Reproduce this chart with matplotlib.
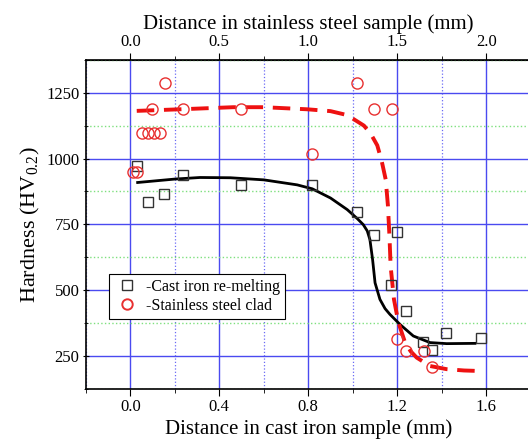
import matplotlib
matplotlib.use("Agg")
import matplotlib.pyplot as plt
from matplotlib.ticker import MultipleLocator, FixedLocator
from matplotlib.lines import Line2D

plt.rcParams['font.family'] = ['Liberation Serif', 'DejaVu Serif']
plt.rcParams['mathtext.fontset'] = 'custom'
plt.rcParams['mathtext.rm'] = 'Liberation Serif'

# measured hardness, cast iron re-melting (squares)
iron_x = [0.029, 0.078, 0.153, 0.235, 0.496, 0.818, 1.017, 1.095, 1.197, 1.170, 1.237, 1.317, 1.357, 1.417, 1.578]
iron_y = [970, 836, 867, 938, 898, 898, 798, 711, 720, 518, 420, 303, 272, 337, 318]

# measured hardness, stainless steel clad (circles)
steel_x = [0.156, 0.096, 0.235, 0.496, 0.051, 0.078, 0.108, 0.133, 0.013, 0.031,
           1.017, 1.095, 1.178, 0.818, 1.197, 1.237, 1.321, 1.357]
steel_y = [1288, 1187, 1187, 1187, 1098, 1098, 1098, 1098, 948, 948,
           1288, 1187, 1187, 1018, 316, 269, 269, 208]

# fitted trend lines
iron_fit_x = [0.033, 0.2, 0.313, 0.45, 0.6, 0.75, 0.818, 0.9, 0.975, 1.02, 1.047, 1.065, 1.077,
              1.089, 1.1, 1.122, 1.145, 1.167, 1.212, 1.272, 1.347, 1.422, 1.549]
iron_fit_y = [909, 922, 928, 927, 919, 900, 885, 850, 806, 772, 749, 725, 692,
              616, 528, 465, 430, 408, 370, 326, 301, 297, 298]

steel_fit_x = [0.029, 0.253, 0.463, 0.6, 0.796, 0.9, 0.975, 1.05, 1.08, 1.11, 1.13, 1.148, 1.158,
               1.165, 1.17, 1.185, 1.205, 1.235, 1.26, 1.287, 1.347, 1.422, 1.5, 1.572]
steel_fit_y = [1181, 1188, 1195, 1195, 1187, 1180, 1165, 1125, 1095, 1050, 990, 920, 820,
               700, 591, 465, 377, 301, 268, 244, 212, 200, 195, 193]

top_ticks = [0.0, 0.5, 1.0, 1.5, 2.0]

fig = plt.figure(figsize=(5.28, 4.42), dpi=100)
ax = fig.add_axes([0.1625, 0.1201, 0.8428, 0.7446])

ax.set_xlim(-0.2, 1.8)
ax.set_ylim(125, 1375)
ax.xaxis.set_major_locator(MultipleLocator(0.4))
ax.xaxis.set_minor_locator(MultipleLocator(0.2))
ax.yaxis.set_major_locator(MultipleLocator(250))
ax.yaxis.set_minor_locator(MultipleLocator(125))
ax.xaxis.set_major_formatter(plt.FormatStrFormatter('%.1f'))

ax.set_axisbelow(True)
ax.grid(True, which='major', axis='x', color='#4a4af0', lw=1.0)
ax.grid(True, which='minor', axis='x', color='#6a6af5', lw=0.9, ls=':')
ax.grid(True, which='major', axis='y', color='#4a4af0', lw=1.0)
ax.grid(True, which='minor', axis='y', color='#7ee07e', lw=1.0, ls=':')

ax.plot(iron_fit_x, iron_fit_y, color='black', lw=2.0, zorder=3)
ax.plot(steel_fit_x, steel_fit_y, color='#ee1111', lw=2.8, dashes=(4.5, 2.5), zorder=3)
ax.plot(iron_x, iron_y, ls='none', marker='s', ms=6.5, mfc='none', mec='#333333', mew=1.0, zorder=4)
ax.plot(steel_x, steel_y, ls='none', marker='o', ms=8, mfc='none', mec='#e83030', mew=1.0, zorder=4)

ax.tick_params(axis='both', which='both', direction='out', labelsize=12, pad=2)
ax.tick_params(which='major', length=5)
ax.tick_params(which='minor', length=3)
ax.tick_params(axis='y', right=True, which='both')
ax.yaxis.set_tick_params(which='both', direction='inout')
for spine in ax.spines.values():
    spine.set_linewidth(1.2)

ax.set_xlabel('Distance in cast iron sample (mm)', fontsize=15, labelpad=3)
ax.set_ylabel('Hardness (HV$_{0.2}$)', fontsize=16, labelpad=3)

top = ax.secondary_xaxis('top', functions=(lambda x: x * 1.25, lambda x: x / 1.25))
top.xaxis.set_major_locator(FixedLocator(top_ticks))
top.xaxis.set_minor_locator(FixedLocator([0.25, 0.75, 1.25, 1.75]))
top.xaxis.set_major_formatter(plt.FormatStrFormatter('%.1f'))
top.tick_params(which='both', direction='out', labelsize=12, pad=2)
top.tick_params(which='major', length=5)
top.tick_params(which='minor', length=3)
top.set_xlabel('Distance in stainless steel sample (mm)', fontsize=15, labelpad=4)

handles = [Line2D([], [], ls='none', marker='s', ms=6.5, mfc='none', mec='#333333'),
           Line2D([], [], ls='none', marker='o', ms=7.5, mfc='none', mec='#e83030', mew=1.4)]
leg = ax.legend(handles, ['-Cast iron re-melting', '-Stainless steel clad'],
                loc='upper left', bbox_to_anchor=(0.053, 0.349), borderaxespad=0,
                fontsize=11.5, frameon=True, fancybox=False, framealpha=1,
                edgecolor='black', handletextpad=0.4, handlelength=1.6, borderpad=0.3,
                labelspacing=0.2)
leg.get_frame().set_linewidth(0.8)

fig.savefig('out.png', dpi=100)
